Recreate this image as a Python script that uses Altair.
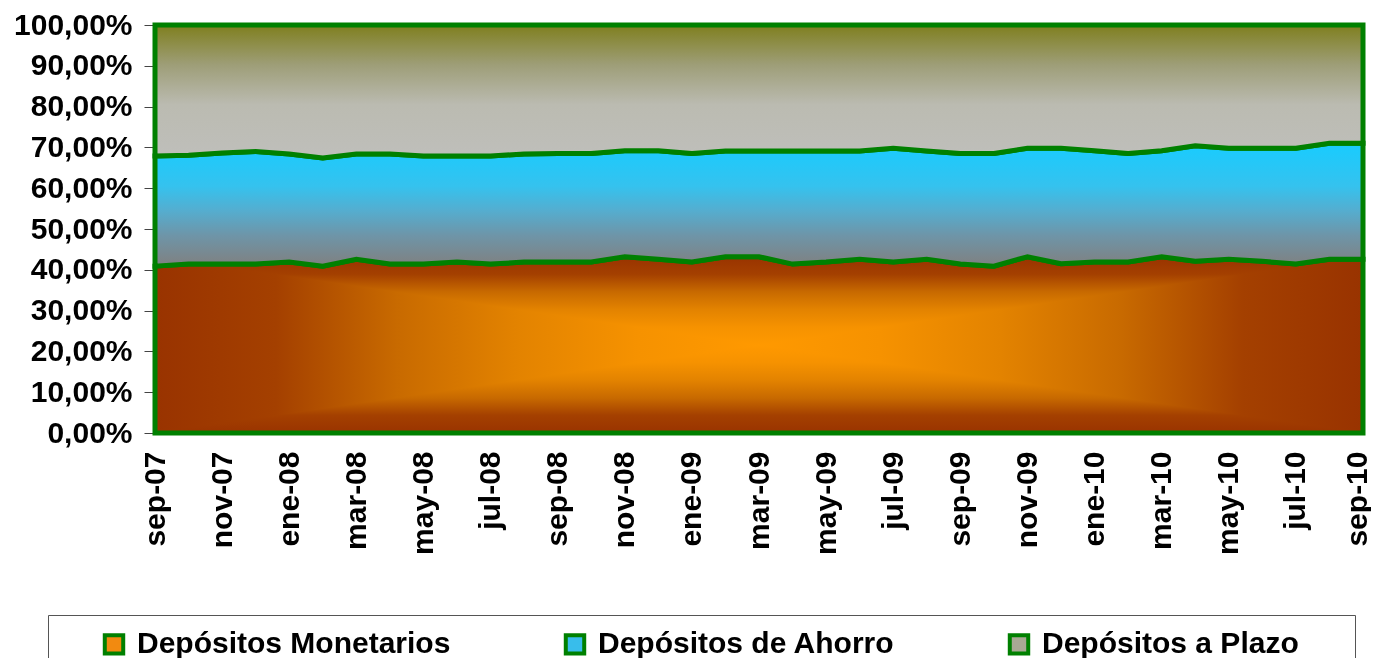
import altair as alt
import pandas as pd

meses = ["sep-07", "oct-07", "nov-07", "dic-07", "ene-08", "feb-08", "mar-08", "abr-08",
         "may-08", "jun-08", "jul-08", "ago-08", "sep-08", "oct-08", "nov-08", "dic-08",
         "ene-09", "feb-09", "mar-09", "abr-09", "may-09", "jun-09", "jul-09", "ago-09",
         "sep-09", "oct-09", "nov-09", "dic-09", "ene-10", "feb-10", "mar-10", "abr-10",
         "may-10", "jun-10", "jul-10", "ago-10", "sep-10"]

monetarios = [40.9, 41.4, 41.4, 41.4, 41.9, 40.9, 42.6, 41.4, 41.4, 41.9, 41.4, 41.9,
              41.9, 41.9, 43.2, 42.6, 41.9, 43.2, 43.2, 41.4, 41.9, 42.6, 41.9, 42.6,
              41.4, 40.9, 43.2, 41.5, 41.9, 41.9, 43.2, 42.1, 42.6, 42.1, 41.4, 42.6, 42.6]
ahorro = [27.0, 26.7, 27.2, 27.6, 26.5, 26.5, 25.8, 27.0, 26.5, 26.0, 26.5, 26.5,
          26.6, 26.6, 26.0, 26.6, 26.6, 25.9, 25.9, 27.7, 27.2, 26.5, 27.9, 26.5,
          27.1, 27.6, 26.6, 28.3, 27.3, 26.6, 26.0, 28.3, 27.2, 27.7, 28.4, 28.4, 28.4]
plazo = [32.1, 31.9, 31.4, 31.0, 31.6, 32.6, 31.6, 31.6, 32.1, 32.1, 32.1, 31.6,
         31.5, 31.5, 30.8, 30.8, 31.5, 30.9, 30.9, 30.9, 30.9, 30.9, 30.2, 30.9,
         31.5, 31.5, 30.2, 30.2, 30.8, 31.5, 30.8, 29.6, 30.2, 30.2, 30.2, 29.0, 29.0]

series = ["Depósitos Monetarios", "Depósitos de Ahorro", "Depósitos a Plazo"]
colores_leyenda = ["#F28A10", "#38BDEB", "#A9A994"]
ticks_y = list(range(0, 101, 10))

df = pd.DataFrame({"mes": meses, series[0]: monetarios, series[1]: ahorro, series[2]: plazo})

VERDE = "#008000"
FONT = "Liberation Sans"
FS = 30

base = alt.Chart(df).transform_calculate(
    cero="0",
    inf="datum['Depósitos Monetarios']",
    sup="datum['Depósitos Monetarios'] + datum['Depósitos de Ahorro']",
    tot="datum['Depósitos Monetarios'] + datum['Depósitos de Ahorro'] + datum['Depósitos a Plazo']",
)

x_enc = alt.X(
    "mes:N", sort=meses, title=None,
    scale=alt.Scale(type="point", padding=0),
    axis=alt.Axis(values=meses[::2], labelAngle=270, domain=False, ticks=False,
                  labelPadding=18, grid=False, labelFont=FONT, labelFontSize=FS,
                  labelFontWeight="bold", labelColor="black",
                  labelOffset={"condition": {"test": "datum.value === 'sep-10'", "value": -6},
                               "value": 0}),
)

yscale = alt.Scale(domain=[0, 100], nice=False)
yaxis = alt.Axis(values=ticks_y, grid=False, tickSize=10, tickColor="#444444",
                 domainColor="black", domainWidth=1.5, labelPadding=12, offset=1,
                 labelExpr="replace(format(datum.value, '.2f'), '.', ',') + '%'",
                 labelFont=FONT, labelFontSize=FS, labelFontWeight="bold", labelColor="black")


def yenc(field):
    return alt.Y(field, type="quantitative", scale=yscale, axis=yaxis, title=None)


def grad(stops, horizontal=False):
    if horizontal:
        return alt.Gradient(gradient="linear", x1=0, x2=1, y1=0, y2=0,
                            stops=[alt.GradientStop(color=c, offset=o) for o, c in stops])
    return alt.Gradient(gradient="linear", x1=0, x2=0, y1=0, y2=1,
                        stops=[alt.GradientStop(color=c, offset=o) for o, c in stops])


rampa_mon = [(0, "#993300"), (0.1, "#A44000"), (0.2, "#C86A00"), (0.3, "#E38300"),
             (0.4, "#F69200"), (0.5, "#FF9900"), (0.6, "#F69200"), (0.7, "#E38300"),
             (0.8, "#C86A00"), (0.9, "#A44000"), (1, "#993300")]

g_plazo = grad([(0, "#7F7F1E"), (0.3, "#9E9E78"), (0.6, "#BBBBB1"), (1, "#BFBFBB")])
g_ahorro = grad([(0, "#18CCFF"), (0.35, "#35C2EE"), (0.55, "#55ADCF"), (0.75, "#6E95A8"), (1, "#808080")])
g_mon_h = grad(rampa_mon, horizontal=True)
g_mon_v = grad(rampa_mon)

mon_base = base.mark_area(color=g_mon_h, strokeWidth=0).encode(
    x=x_enc, y=yenc("inf"), y2=alt.Y2("cero:Q"))
mon_over = base.mark_area(color=g_mon_v, strokeWidth=0, blend="darken").encode(
    x=x_enc, y=yenc("inf"), y2=alt.Y2("cero:Q"))
mon_line = base.mark_area(fill="#993300", fillOpacity=0, stroke=VERDE, strokeWidth=5).encode(
    x=x_enc, y=yenc("inf"), y2=alt.Y2("cero:Q"))
aho_area = base.mark_area(fill=g_ahorro, stroke=VERDE, strokeWidth=5).encode(
    x=x_enc, y=yenc("sup"), y2=alt.Y2("inf:Q"))
pla_area = base.mark_area(fill=g_plazo, stroke=VERDE, strokeWidth=5).encode(
    x=x_enc, y=yenc("tot"), y2=alt.Y2("sup:Q"))

leyenda = alt.Chart(df).transform_fold(series, as_=["serie", "valor"]).transform_filter(
    "false").mark_square(filled=True, stroke=VERDE, strokeWidth=4).encode(
    x=x_enc, y=yenc("valor"),
    color=alt.Color("serie:N", scale=alt.Scale(domain=series, range=colores_leyenda),
                    legend=alt.Legend(title=" ", titleOrient="right", titlePadding=42,
                                      titleFontSize=10,
                                      orient="none", legendX=-107, legendY=590,
                                      direction="horizontal", columns=3, gridAlign="each",
                                      columnPadding=72, symbolType="square", symbolSize=340,
                                      symbolStrokeColor=VERDE, symbolStrokeWidth=4,
                                      symbolOffset=37, symbolOpacity=1,
                                      labelFont=FONT, labelFontSize=FS, labelFontWeight="bold",
                                      labelColor="black", labelLimit=600, labelOffset=8,
                                      padding=14, strokeColor="#555555")),
)

chart = alt.layer(mon_base, mon_over, mon_line, aho_area, pla_area, leyenda).properties(
    width=1208, height=408,
    padding={"left": 147, "top": 17, "right": 8, "bottom": 225},
    autosize=alt.AutoSizeParams(type="none"),
).configure_view(stroke=None)

chart.save("out.html", embed_options={"renderer": "svg", "actions": False})
